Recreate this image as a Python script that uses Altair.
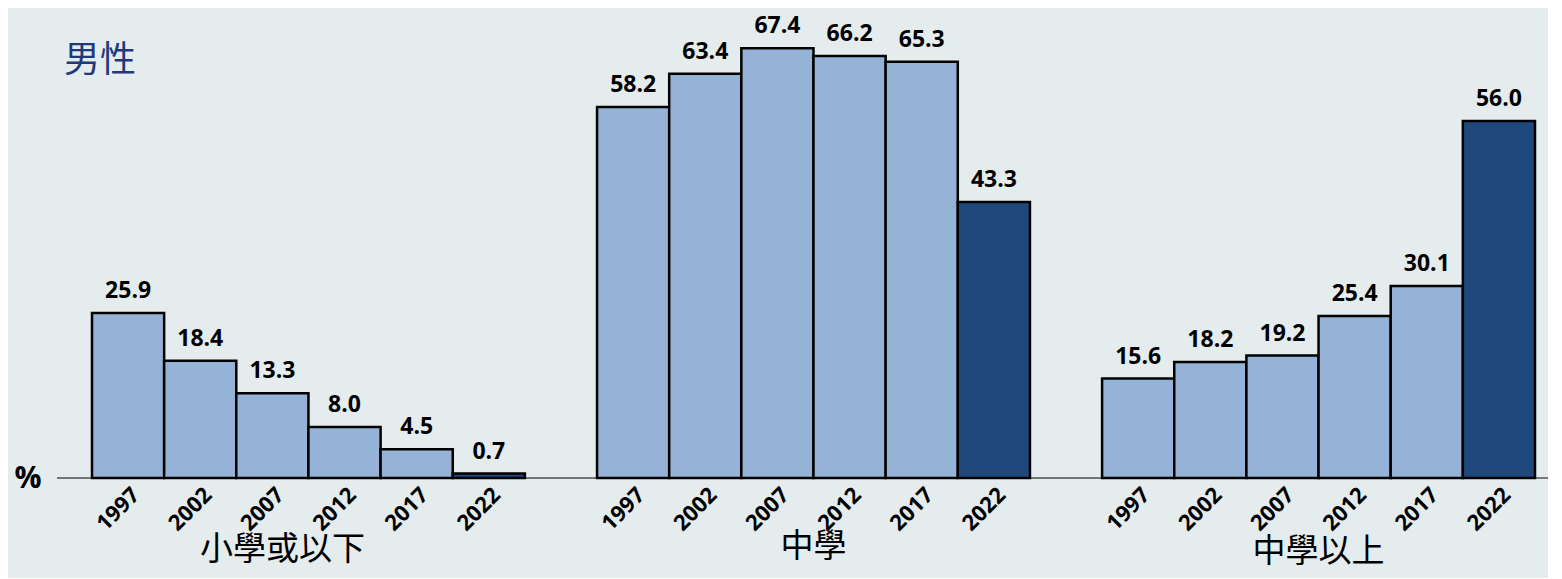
import altair as alt
import pandas as pd

groups = ["小學或以下", "中學", "中學以上"]
years = ["1997", "2002", "2007", "2012", "2017", "2022"]
primary_or_below = [25.9, 18.4, 13.3, 8.0, 4.5, 0.7]
secondary = [58.2, 63.4, 67.4, 66.2, 65.3, 43.3]
above_secondary = [15.6, 18.2, 19.2, 25.4, 30.1, 56.0]
series = [primary_or_below, secondary, above_secondary]

LIGHT = "#95B3D7"
DARK = "#1F497D"
BG = "#E5ECEE"
FONT = "Open Sans"
CJK = "Noto Sans CJK TC"

rows = []
for g, vals in zip(groups, series):
    for yr, v in zip(years, vals):
        rows.append({"group": g, "year": yr, "slot": f"{g}-{yr}", "value": v})
df = pd.DataFrame(rows)

slot_order = []
for i, g in enumerate(groups):
    slot_order += [f"{g}-{yr}" for yr in years]
    if i < len(groups) - 1:
        slot_order.append(f"gap{i}")

W, H = 1443, 459
ymax = 72

x_enc = alt.X(
    "slot:N",
    sort=slot_order,
    scale=alt.Scale(domain=slot_order, paddingInner=0, paddingOuter=0),
    axis=alt.Axis(
        title=None,
        labelExpr="indexof(datum.value,'-')>0 ? split(datum.value,'-')[1] : ''",
        labelAngle=-45,
        labelAlign="right",
        labelBaseline="middle",
        labelPadding=13,
        labelOffset=8,
        labelFont=FONT,
        labelFontWeight="bold",
        labelFontSize=22,
        labelColor="black",
        domain=False,
        ticks=False,
        grid=False,
    ),
)
y_enc = alt.Y("value:Q", scale=alt.Scale(domain=[0, ymax], nice=False, zero=True), axis=None)

base = alt.Chart(df)

bars = base.mark_bar(stroke="black", strokeWidth=2.5).encode(
    x=x_enc,
    y=y_enc,
    color=alt.condition(alt.datum.year == "2022", alt.value(DARK), alt.value(LIGHT)),
)

values = base.mark_text(
    font=FONT, fontWeight="bold", fontSize=23, color="black",
    baseline="alphabetic", dy=-15,
).encode(
    x=alt.X("slot:N", sort=slot_order),
    y=alt.Y("value:Q"),
    text=alt.Text("value:Q", format=".1f"),
)

baseline = alt.Chart(df).mark_rule(color="black", strokeWidth=1.2).encode(
    x=alt.value(-35), x2=alt.value(W + 40), y=alt.value(H)
).transform_filter("datum.slot == '%s'" % slot_order[0])

# group labels (centred between 3rd and 4th bars of each group)
gl_df = pd.DataFrame({"group": groups, "slot": [f"{g}-{years[3]}" for g in groups]})
label_layers = []
for g, dx, yy in zip(groups, [-26, 0, 0], [531, 528, 533]):
    label_layers.append(
        alt.Chart(gl_df).transform_filter(alt.datum.group == g).mark_text(
            font=CJK, fontSize=33, color="black", baseline="middle", align="center", dx=dx,
        ).encode(
            x=alt.X("slot:N", sort=slot_order, bandPosition=0),
            y=alt.value(yy),
            text="group:N",
        )
    )

title_df = pd.DataFrame({"t": ["男性"]})
title = alt.Chart(title_df).mark_text(
    font=CJK, fontSize=36, color="#1F3A7A", align="center", baseline="middle"
).encode(x=alt.value(8), y=alt.value(42), text="t:N")

pct_df = pd.DataFrame({"t": ["%"]})
pct = alt.Chart(pct_df).mark_text(
    font=FONT, fontSize=30, fontWeight="bold", color="black", align="center", baseline="middle"
).encode(x=alt.value(-64), y=alt.value(H + 1), text="t:N")

chart = alt.layer(bars, values, baseline, *label_layers, title, pct).properties(
    width=W,
    height=H,
    background=BG,
    padding={"left": 84, "top": 11, "right": 13, "bottom": 100},
    autosize=alt.AutoSizeParams(type="none"),
).configure_view(stroke=None)

chart.save("out.html", embed_options={"renderer": "svg", "actions": False})
